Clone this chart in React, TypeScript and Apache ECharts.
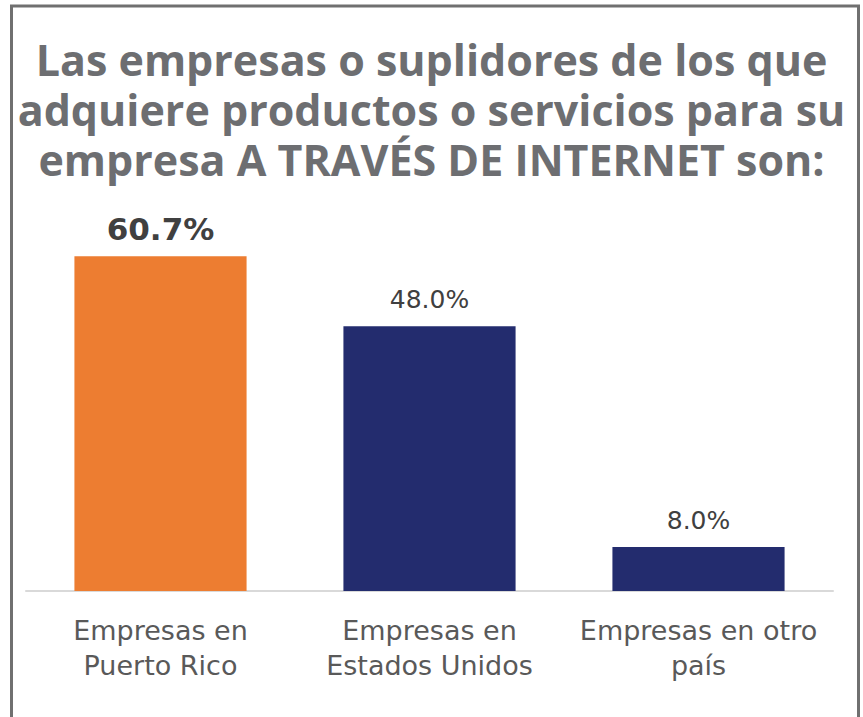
import React, { useEffect, useRef } from "react";
import * as echarts from "echarts";

const categories = ["Empresas en\nPuerto Rico", "Empresas en\nEstados Unidos", "Empresas en otro\npaís"];
const values = [60.7, 48.0, 8.0];
const barColors = ["#ED7D31", "#232C6E", "#232C6E"];
const titleText = "Las empresas o suplidores de los que\nadquiere productos o servicios para su\nempresa A TRAVÉS DE INTERNET son:";

export default function App() {
  const ref = useRef<HTMLDivElement>(null);
  useEffect(() => {
    const chart = echarts.init(ref.current!, undefined, { renderer: "svg" });
    chart.setOption({
      animation: false,
      backgroundColor: "#ffffff",
      title: {
        text: titleText,
        left: "center",
        top: 29,
        textStyle: {
          fontFamily: "Open Sans",
          fontWeight: "bold",
          fontSize: 43,
          lineHeight: 50,
          color: "#6D6E71",
        },
      },
      graphic: [
        {
          type: "rect",
          shape: { x: 11.5, y: 6, width: 847, height: 720 },
          style: { fill: "none", stroke: "#707070", lineWidth: 3 },
          silent: true,
        },
      ],
      grid: { left: 26, right: 30, top: 205, bottom: 126 },
      xAxis: {
        type: "category",
        data: categories,
        axisLine: { show: true, lineStyle: { color: "#D9D9D9", width: 2 } },
        axisTick: { show: false },
        axisLabel: {
          color: "#595959",
          fontFamily: "DejaVu Sans",
          fontSize: 27,
          lineHeight: 35,
          margin: 22,
          interval: 0,
        },
      },
      yAxis: {
        type: "value",
        min: 0,
        max: 70,
        show: false,
        splitLine: { show: false },
      },
      series: [
        {
          type: "bar",
          barWidth: "64%",
          data: values.map((v, i) => ({
            value: v,
            itemStyle: { color: barColors[i] },
            label: i === 0
              ? { fontSize: 31, fontWeight: "bold", color: "#404040", distance: 12 }
              : { fontSize: 25, fontWeight: "normal", color: "#404040", distance: 14 },
          })),
          label: {
            show: true,
            position: "top",
            fontFamily: "DejaVu Sans",
            formatter: (p: any) => p.value.toFixed(1) + "%",
          },
        },
      ],
    });
    return () => chart.dispose();
  }, []);
  return <div ref={ref} style={{ position: "fixed", left: 0, top: 0, width: 863, height: 717 }} />;
}
